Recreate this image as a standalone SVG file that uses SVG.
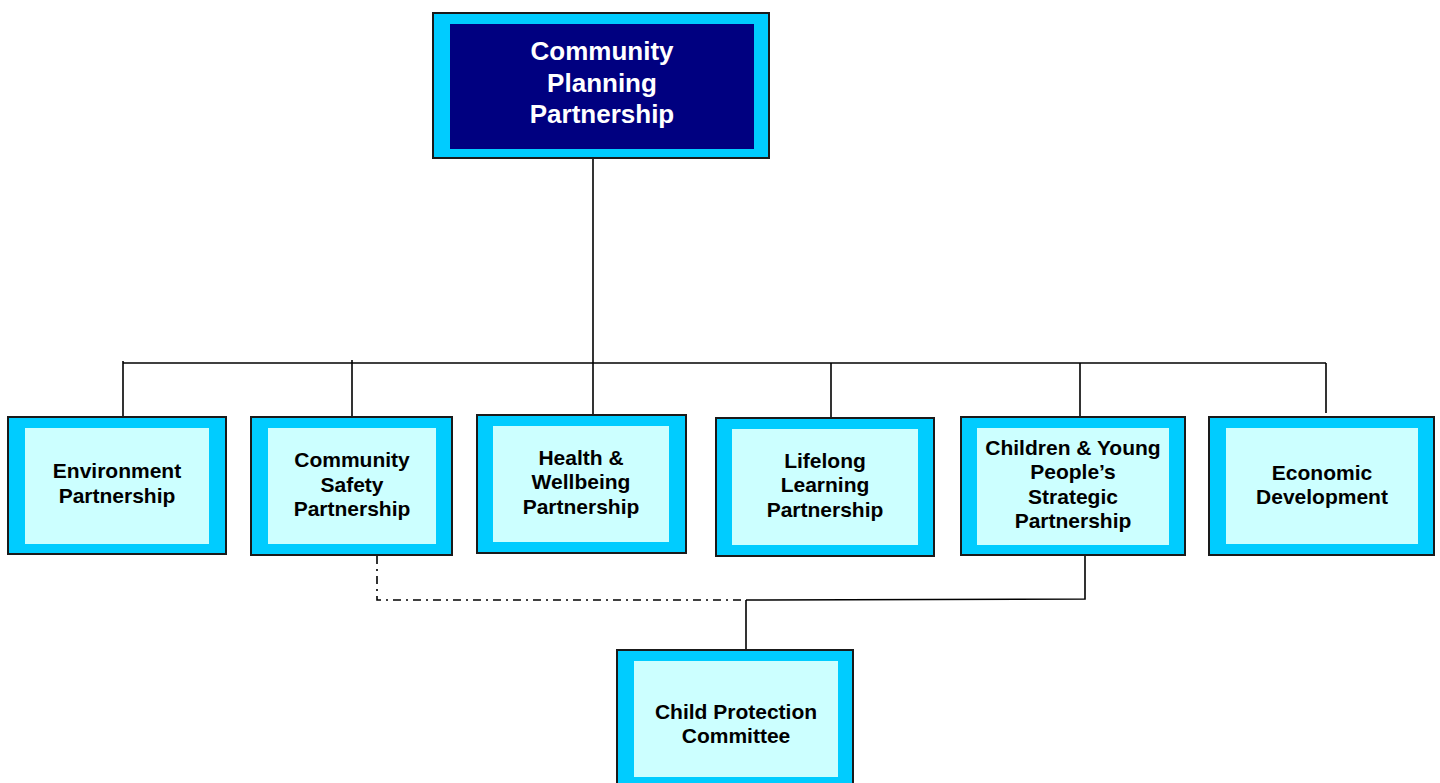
<svg xmlns="http://www.w3.org/2000/svg" width="1440" height="783" viewBox="0 0 1440 783">
<style>
.outer{fill:#00CCFF;stroke:#1a1a1a;stroke-width:2}
.inner{fill:#CCFFFF}
.innerDark{fill:#000080}
.t{font-family:"Liberation Sans",Arial,sans-serif;font-weight:bold;font-size:21px;fill:#000;text-anchor:middle}
.tw{font-family:"Liberation Sans",Arial,sans-serif;font-weight:bold;font-size:26px;fill:#fff;text-anchor:middle}
.ln{stroke:#000;stroke-width:1.6;fill:none}
.dash{stroke:#000;stroke-width:1.6;fill:none;stroke-dasharray:8 5 2 5}
</style>
<rect width="1440" height="783" fill="#fff"/>
<g id="connectors">
<line class="ln" x1="593" y1="158" x2="593" y2="416"/>
<line class="ln" x1="123" y1="363" x2="1326" y2="363"/>
<line class="ln" x1="123" y1="361" x2="123" y2="417"/>
<line class="ln" x1="352" y1="360" x2="352" y2="417"/>
<line class="ln" x1="831" y1="363" x2="831" y2="418"/>
<line class="ln" x1="1080" y1="363" x2="1080" y2="417"/>
<line class="ln" x1="1326" y1="363" x2="1326" y2="413"/>
<polyline class="ln" points="1085,555 1085,599 746,600"/>
<line class="ln" x1="746" y1="600" x2="746" y2="650"/>
<polyline class="dash" points="377,556 377,600 746,600"/>
</g>
<g id="community-planning-partnership">
<rect class="outer" x="433" y="13" width="336" height="145"/>
<rect class="innerDark" x="450" y="24" width="304" height="125"/>
<text class="tw" x="602" y="60">Community</text>
<text class="tw" x="602" y="92">Planning</text>
<text class="tw" x="602" y="123">Partnership</text>
</g>
<g id="environment-partnership">
<rect class="outer" x="8" y="417" width="218" height="137"/>
<rect class="inner" x="25" y="428" width="184" height="116"/>
<text class="t" x="117" y="478">Environment</text>
<text class="t" x="117" y="502.5">Partnership</text>
</g>
<g id="community-safety-partnership">
<rect class="outer" x="251" y="417" width="201" height="138"/>
<rect class="inner" x="268" y="428" width="168" height="116"/>
<text class="t" x="352" y="467">Community</text>
<text class="t" x="352" y="491.5">Safety</text>
<text class="t" x="352" y="516">Partnership</text>
</g>
<g id="health-wellbeing-partnership">
<rect class="outer" x="477" y="415" width="209" height="138"/>
<rect class="inner" x="493" y="426" width="176" height="116"/>
<text class="t" x="581" y="464.5">Health &amp;</text>
<text class="t" x="581" y="489">Wellbeing</text>
<text class="t" x="581" y="513.5">Partnership</text>
</g>
<g id="lifelong-learning-partnership">
<rect class="outer" x="716" y="418" width="218" height="138"/>
<rect class="inner" x="732" y="429" width="186" height="116"/>
<text class="t" x="825" y="467.5">Lifelong</text>
<text class="t" x="825" y="492">Learning</text>
<text class="t" x="825" y="516.5">Partnership</text>
</g>
<g id="children-young-peoples-strategic-partnership">
<rect class="outer" x="961" y="417" width="224" height="138"/>
<rect class="inner" x="977" y="428" width="192" height="117"/>
<text class="t" x="1073" y="454.5">Children &amp; Young</text>
<text class="t" x="1073" y="479">People’s</text>
<text class="t" x="1073" y="503.5">Strategic</text>
<text class="t" x="1073" y="528">Partnership</text>
</g>
<g id="economic-development">
<rect class="outer" x="1209" y="417" width="225" height="138"/>
<rect class="inner" x="1226" y="428" width="192" height="116"/>
<text class="t" x="1322" y="479.5">Economic</text>
<text class="t" x="1322" y="504">Development</text>
</g>
<g id="child-protection-committee">
<rect class="outer" x="617" y="650" width="236" height="140"/>
<rect class="inner" x="634" y="661" width="204" height="116"/>
<text class="t" x="736" y="718.5">Child Protection</text>
<text class="t" x="736" y="743">Committee</text>
</g>
</svg>
